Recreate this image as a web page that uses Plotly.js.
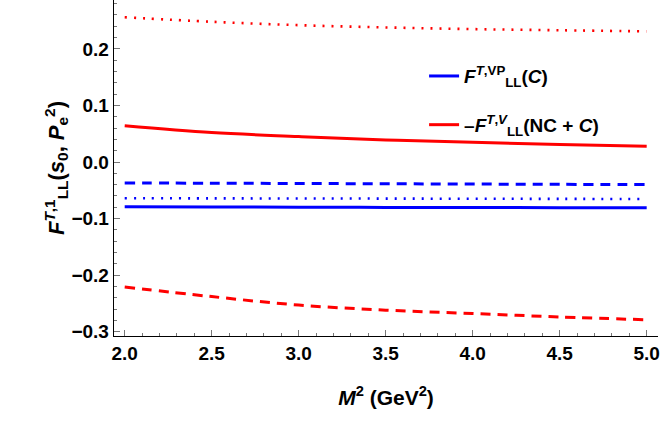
<!DOCTYPE html>
<html>
<head>
<meta charset="utf-8">
<script src="https://cdn.plot.ly/plotly-3.0.1.min.js"></script>
<style>
  html, body { margin: 0; padding: 0; background: #ffffff; }
  #chart { width: 664px; height: 428px; }
</style>
</head>
<body>
<div id="chart"></div>
<script>
// M^2 grid (GeV^2)
const m2 = [2.0, 2.5, 3.0, 3.5, 4.0, 4.5, 5.0];

// -F^{T,V}_LL, three variants (red)
const redSolid  = [0.064, 0.052, 0.045, 0.039, 0.035, 0.031, 0.028];
const redDashed = [-0.221, -0.238, -0.253, -0.262, -0.268, -0.274, -0.279];
const redDotted = [0.256, 0.248, 0.242, 0.238, 0.235, 0.233, 0.231];

// F^{T,VP}_LL, three variants (blue)
const blueSolid  = [-0.079, -0.0795, -0.080, -0.0803, -0.0805, -0.0808, -0.081];
const blueDashed = [-0.037, -0.0375, -0.038, -0.0385, -0.039, -0.0395, -0.040];
const blueDotted = [-0.064, -0.0643, -0.0645, -0.0647, -0.065, -0.0652, -0.0655];

const RED = '#ff0000';
const BLUE = '#0000ff';

function trace(y, color, dash, name, legend, group) {
  return {
    x: m2,
    y: y,
    type: 'scatter',
    mode: 'lines',
    line: { color: color, width: dash === 'dot' ? 2.6 : 3, dash: dash === 'dot' ? '2px,7px' : (dash === 'dash' ? '10px,7px' : 'solid'), shape: 'spline' },
    name: name,
    showlegend: legend,
    legendgroup: group,
    hoverinfo: 'skip',
  };
}

const data = [
  trace(blueSolid, BLUE, 'solid', '<i>F</i><sup><i>T</i>,VP</sup><sub>LL</sub>(<i>C</i>)', true, 'a'),
  trace(redSolid, RED, 'solid', '–<i>F</i><sup><i>T</i>,<i>V</i></sup><sub>LL</sub>(NC + <i>C</i>)', true, 'b'),
  trace(blueDashed, BLUE, 'dash', '', false, 'c'),
  trace(blueDotted, BLUE, 'dot', '', false, 'c'),
  trace(redDashed, RED, 'dash', '', false, 'c'),
  trace(redDotted, RED, 'dot', '', false, 'c'),
];

const tickFont = { family: 'Liberation Sans, Arial, sans-serif', size: 19, color: '#000000', weight: 'bold' };

const layout = {
  width: 664,
  height: 428,
  margin: { l: 114, r: 6, t: 0, b: 92 },
  paper_bgcolor: '#ffffff',
  plot_bgcolor: '#ffffff',
  font: { family: 'Liberation Sans, Arial, sans-serif', color: '#000000' },
  showlegend: true,
  legend: {
    x: 0.57, y: 0.83, xanchor: 'left', yanchor: 'top',
    bgcolor: 'rgba(0,0,0,0)',
    font: { size: 19, weight: 'bold' },
    traceorder: 'grouped',
    tracegroupgap: 21,
    itemwidth: 30,
  },
  xaxis: {
    range: [1.9385, 5.065],
    tickmode: 'linear', tick0: 2.0, dtick: 0.5,
    tickformat: '.1f',
    ticks: 'inside', ticklen: 6, tickwidth: 1, tickcolor: '#777777',
    minor: { dtick: 0.1, ticks: 'inside', ticklen: 3, tickcolor: '#777777', showgrid: false },
    showline: true, linecolor: '#000000', linewidth: 1.3,
    showgrid: false, zeroline: false,
    tickfont: tickFont,
    title: { text: '<i>M</i><sup>2</sup> (GeV<sup>2</sup>)', font: { size: 21, weight: 'bold' }, standoff: 27 },
  },
  yaxis: {
    range: [-0.3077, 0.2865],
    tickmode: 'linear', tick0: -0.3, dtick: 0.1,
    tickformat: '.1f',
    ticks: 'inside', ticklen: 6, tickwidth: 1, tickcolor: '#777777',
    minor: { dtick: 0.02, ticks: 'inside', ticklen: 3, tickcolor: '#777777', showgrid: false },
    showline: true, linecolor: '#000000', linewidth: 1.3,
    showgrid: false, zeroline: false,
    tickfont: tickFont,
    title: { text: '<i>F</i><sup><i>T</i>,1</sup><sub>LL</sub>(<i>s</i><sub>0</sub>, <i>P</i><sub>e</sub><sup>2</sup>)', font: { size: 22, weight: 'bold' }, standoff: 0 },
  },
};

Plotly.newPlot('chart', data, layout, { displayModeBar: false, staticPlot: true });
</script>
</body>
</html>
